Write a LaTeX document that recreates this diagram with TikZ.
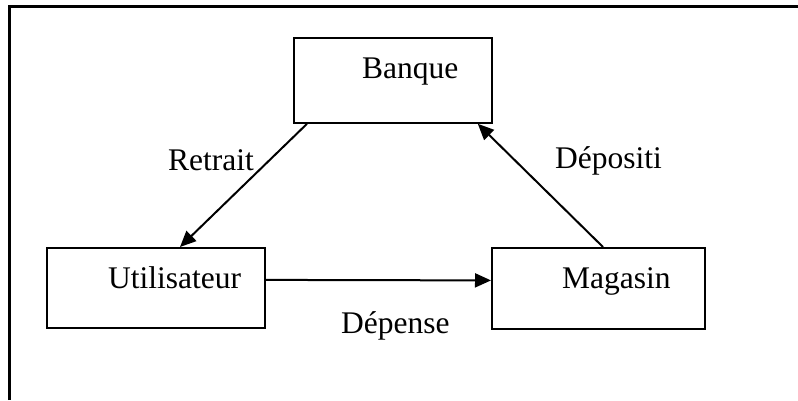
\documentclass[tikz,border=0pt]{standalone}
\usepackage{fontspec}
\setmainfont{Liberation Serif}
\usetikzlibrary{arrows.meta,calc}
\begin{document}
\begin{tikzpicture}[x=1pt,y=-1pt,
  box/.style={draw,line width=1.8pt,minimum width=#1,minimum height=85pt,inner sep=0pt,anchor=north west},
  word/.style={font=\fontsize{31.5}{36}\selectfont,inner sep=0pt,anchor=base west},
  flow/.style={line width=2pt,-{Triangle[length=16pt,width=14pt]}}]
  \useasboundingbox (0,0) rectangle (798,400);
  % frame lines along the top and left edges
  \draw[line width=3pt] (9,400) -- (9,6) -- (798,6);

  % boxes
  \node[box=198pt] (banque) at (293,37) {};
  \node[box=218pt,minimum height=80pt] (util) at (46,247) {};
  \node[box=213pt,minimum height=81pt] (magasin) at (491,247) {};

  % box titles
  \node[word] (tb) at (362,78) {Banque};
  \node[word] (tu) at (108,288) {Utilisateur};
  \node[word] (tm) at (562,288) {Magasin};

  % connectors
  \draw[flow] ($(banque.south west)+(14,0)$) -- ($(util.north west)+(134,0)$);
  \draw[flow] ($(util.east)+(0,-8)$) -- ($(magasin.west)+(0,-8)$);
  \draw[flow] ($(magasin.north west)+(112,0)$) -- ($(banque.south east)+(-15,0)$);

  % connector labels
  \node[word] (lr) at (168,170) {Retrait};
  \node[word] (ld) at (341,333) {Dépense};
  \node[word] (lp) at (555,168) {Dépositi};
\end{tikzpicture}
\end{document}
